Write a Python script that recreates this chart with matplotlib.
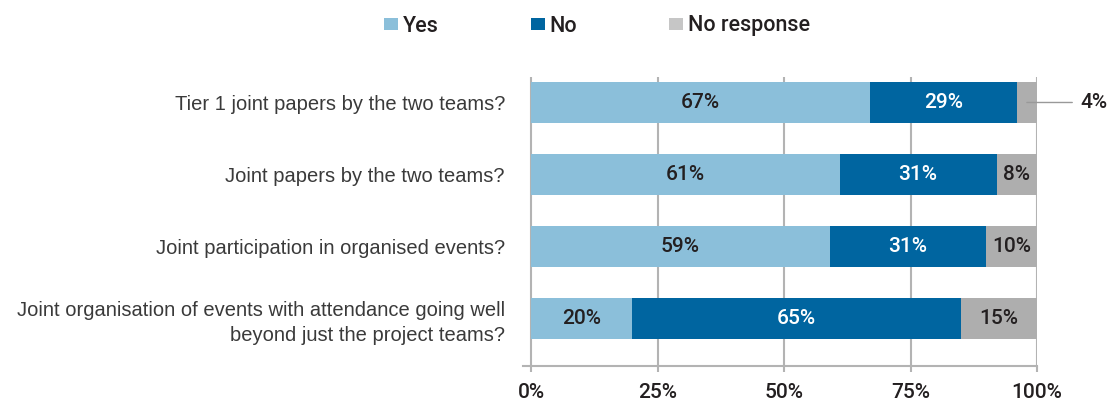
import matplotlib
matplotlib.use("Agg")
import matplotlib.pyplot as plt
from matplotlib.patches import Patch

plt.rcParams['font.family'] = ['Liberation Sans', 'DejaVu Sans']
num_font = dict(family=['Roboto', 'Liberation Sans', 'DejaVu Sans'], weight=500)

categories = [
    "Tier 1 joint papers by the two teams?",
    "Joint papers by the two teams?",
    "Joint participation in organised events?",
    "Joint organisation of events with attendance going well\nbeyond just the project teams?",
]
yes = [67, 61, 59, 20]
no = [29, 31, 31, 65]
no_response = [4, 8, 10, 15]
series_names = ["Yes", "No", "No response"]
tick_values = [0, 25, 50, 75, 100]
tick_labels = ["0%", "25%", "50%", "75%", "100%"]

c_yes = "#8BBFDA"
c_no = "#0065A0"
c_nr = "#AEAEAE"
c_nr_leg = "#C6C6C6"
txt = "#231F20"
grid_c = "#B3B3B3"

fig = plt.figure(figsize=(11.13, 4.01), dpi=100)
W, H = 1113, 401
x0, x1 = 523, 1037
ytop, ybot = 77, 366
ax = fig.add_axes([x0 / W, 1 - ybot / H, (x1 - x0) / W, (ybot - ytop) / H])

ypos = list(range(len(categories)))
bar_h = 0.57
left = [0] * len(categories)
colors = [c_yes, c_no, c_nr]
text_colors = [txt, "white", txt]
for vals, col, tc in zip([yes, no, no_response], colors, text_colors):
    bars = ax.barh(ypos, vals, left=left, height=bar_h, color=col, zorder=3)
    for i, (b, v) in enumerate(zip(bars, vals)):
        cx = left[i] + v / 2
        if v >= 6:
            ax.text(cx, ypos[i], f"{v}%", ha="center", va="center",
                    fontsize=15, color=tc, zorder=4, **num_font)
        else:
            ax.annotate(f"{v}%", xy=(cx, ypos[i]), xytext=(111.3, ypos[i]),
                        ha="center", va="center", fontsize=15, color=txt,
                        annotation_clip=False, **num_font,
                        arrowprops=dict(arrowstyle="-", color="#999999", lw=1,
                                        shrinkA=4, shrinkB=0))
    left = [l + v for l, v in zip(left, vals)]

ax.set_xlim(-1.6, 100)
ax.set_ylim(3.66, -0.354)
ax.set_xticks(tick_values)
ax.set_xticklabels(tick_labels, fontsize=15, color=txt, **num_font)
ax.tick_params(axis="x", length=4, color=grid_c, width=1.5, pad=8)
ax.set_yticks(ypos)
ax.set_yticklabels(categories, fontsize=14.5, color="#3a3a3a", linespacing=1.4)
ax.tick_params(axis="y", length=0, pad=13)
for t in ax.get_yticklabels():
    t.set_ha("right")
    t.set_multialignment("right")

for s in ["top", "right", "left"]:
    ax.spines[s].set_visible(False)
ax.spines["bottom"].set_color(grid_c)
ax.spines["bottom"].set_linewidth(1.5)
ax.xaxis.grid(True, color=grid_c, linewidth=1.5, zorder=0)
ax.set_axisbelow(True)

handles = [Patch(facecolor=c_yes), Patch(facecolor=c_no), Patch(facecolor=c_nr_leg)]
fig.legend(handles, series_names, loc="center", bbox_to_anchor=(597 / W, 1 - 26 / H),
           ncol=3, frameon=False, handlelength=0.65, handleheight=0.5,
           handletextpad=0.2, columnspacing=4.3, labelcolor=txt, borderpad=0,
           prop=dict(size=15.5, **num_font))

fig.savefig("out.png", dpi=100)
